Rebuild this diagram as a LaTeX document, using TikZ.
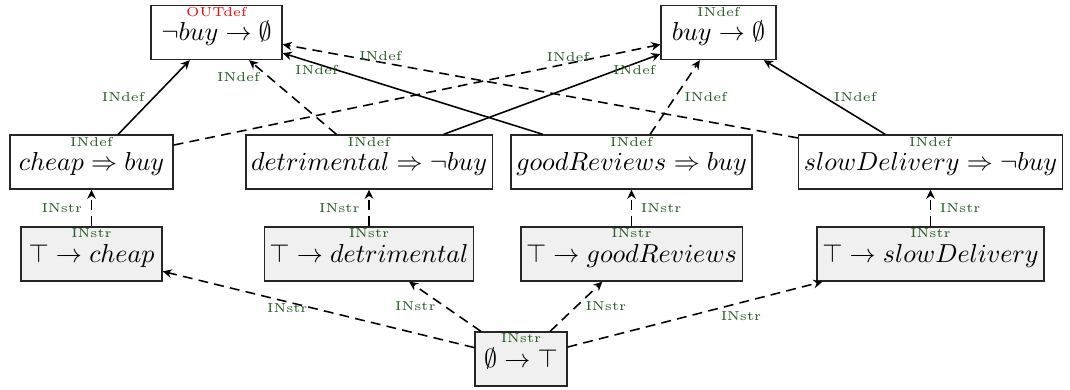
\documentclass[tikz,border=0pt]{standalone}
\usetikzlibrary{arrows.meta}
\definecolor{lblgreen}{RGB}{38,92,38}
\definecolor{boxgray}{RGB}{240,240,240}
\newcommand\mtx[1]{\rule[-2pt]{0pt}{10.2pt}$#1$}
\begin{document}
\begin{tikzpicture}[x=0.3846pt, y=-0.3846pt,
  box/.style={draw=black!85, line width=0.5pt, inner xsep=2pt, inner ysep=0pt,
    minimum height=20.8pt, font=\fontsize{9.6}{11.5}\selectfont},
  strbox/.style={box, fill=boxgray},
  tag/.style={font=\tiny, text=lblgreen},
  deflab/.style={label={[tag, anchor=north, inner sep=0.8pt]north:INdef}},
  strlab/.style={label={[tag, anchor=north, inner sep=0.8pt]north:INstr}},
  arr/.style={-{Stealth[length=3.5pt,width=3.3pt]}, line width=0.6pt},
  dasharr/.style={arr, dash pattern=on 3.8pt off 2.4pt},
  onl/.style={tag, anchor=center, yshift=2.5pt}
]
\useasboundingbox (0,0) rectangle (1070,389);

\node[box, minimum width=50.4pt, label={[tag, text=red, anchor=north, inner sep=0.8pt]north:OUTdef}] (nb) at (216.5,32.5) {\mtx{\neg buy \rightarrow \emptyset}};
\node[box, deflab, minimum width=44.2pt] (b) at (718.5,32.5) {\mtx{buy \rightarrow \emptyset}};

\node[box, deflab, minimum width=62.7pt] (cb) at (91.5,162) {\mtx{cheap \Rightarrow buy}};
\node[box, deflab, minimum width=94.6pt] (db) at (369,162) {\mtx{detrimental \Rightarrow \neg buy}};
\node[box, deflab, minimum width=91.9pt] (gb) at (631.5,162) {\mtx{goodReviews \Rightarrow buy}};
\node[box, deflab, minimum width=101.2pt] (sb) at (930.5,162) {\mtx{slowDelivery \Rightarrow \neg buy}};

\node[strbox, strlab, minimum width=54.2pt] (tc) at (91.5,254) {\mtx{\top \rightarrow cheap}};
\node[strbox, strlab, minimum width=80pt] (td) at (369,254) {\mtx{\top \rightarrow detrimental}};
\node[strbox, strlab, minimum width=84.2pt] (tg) at (631.5,254) {\mtx{\top \rightarrow goodReviews}};
\node[strbox, strlab, minimum width=86.5pt] (ts) at (930.5,254) {\mtx{\top \rightarrow slowDelivery}};

\node[strbox, strlab, minimum width=35.4pt] (bot) at (521,359) {\mtx{\emptyset \rightarrow \top}};

\draw[arr] (cb) -- node[tag, midway, left] {INdef} (nb);
\draw[dasharr] (cb) -- node[onl, pos=.81] {INdef} (b);
\draw[dasharr] (db) -- node[tag, pos=.77, left] {INdef} (nb);
\draw[arr] (db) -- node[tag, pos=.88, below, inner sep=0.5pt] {INdef} (b);
\draw[arr] (gb) -- node[tag, pos=.87, below, inner sep=0.5pt] {INdef} (nb);
\draw[dasharr] (gb) -- node[tag, midway, right] {INdef} (b);
\draw[dasharr] (sb) -- node[onl, pos=.81] {INdef} (nb);
\draw[arr] (sb) -- node[tag, midway, right] {INdef} (b);

\draw[dasharr] (tc) -- node[tag, midway, left] {INstr} (cb);
\draw[dasharr] (td) -- node[tag, midway, left] {INstr} (db);
\draw[dasharr] (tg) -- node[tag, midway, right] {INstr} (gb);
\draw[dasharr] (ts) -- node[tag, midway, right] {INstr} (sb);

\draw[dasharr] (bot) -- node[tag, pos=.6, below, inner sep=0.5pt] {INstr} (tc);
\draw[dasharr] (bot) -- node[tag, midway, left] {INstr} (td);
\draw[dasharr] (bot) -- node[tag, midway, right] {INstr} (tg);
\draw[dasharr] (bot) -- node[tag, pos=.68, below] {INstr} (ts);
\end{tikzpicture}
\end{document}
